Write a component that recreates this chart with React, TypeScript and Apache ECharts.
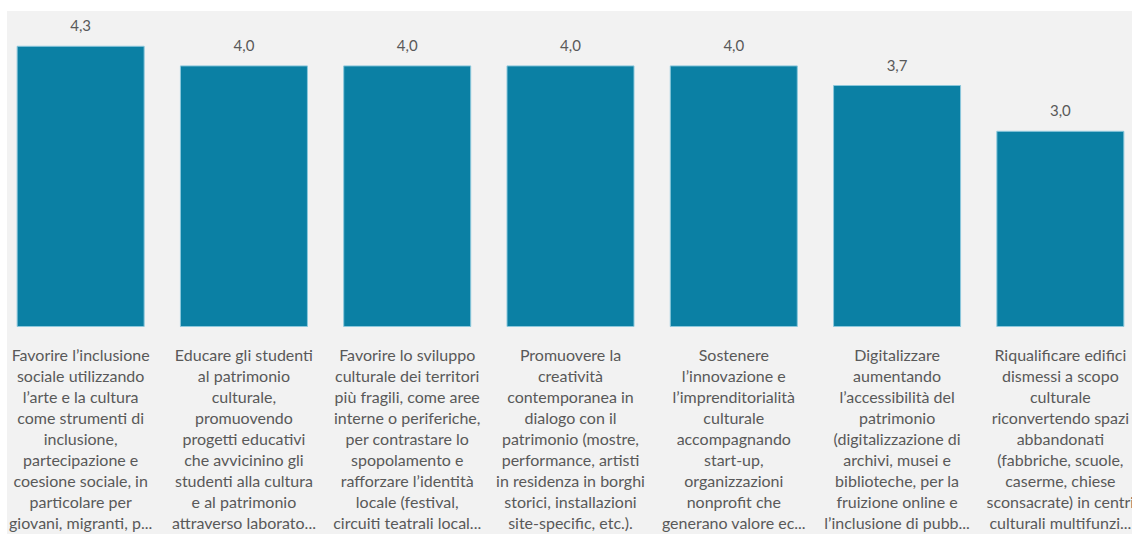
import React, { useEffect, useRef } from "react";
import * as echarts from "echarts";

const categories: string[] = [
  "Favorire l’inclusione\nsociale utilizzando\nl’arte e la cultura\ncome strumenti di\ninclusione,\npartecipazione e\ncoesione sociale, in\nparticolare per\ngiovani, migranti, p...",
  "Educare gli studenti\nal patrimonio\nculturale,\npromuovendo\nprogetti educativi\nche avvicinino gli\nstudenti alla cultura\ne al patrimonio\nattraverso laborato...",
  "Favorire lo sviluppo\nculturale dei territori\npiù fragili, come aree\ninterne o periferiche,\nper contrastare lo\nspopolamento e\nrafforzare l’identità\nlocale (festival,\ncircuiti teatrali local...",
  "Promuovere la\ncreatività\ncontemporanea in\ndialogo con il\npatrimonio (mostre,\nperformance, artisti\nin residenza in borghi\nstorici, installazioni\nsite-specific, etc.).",
  "Sostenere\nl’innovazione e\nl’imprenditorialità\nculturale\naccompagnando\nstart-up,\norganizzazioni\nnonprofit che\ngenerano valore ec...",
  "Digitalizzare\naumentando\nl’accessibilità del\npatrimonio\n(digitalizzazione di\narchivi, musei e\nbiblioteche, per la\nfruizione online e\nl’inclusione di pubb...",
  "Riqualificare edifici\ndismessi a scopo\nculturale\nriconvertendo spazi\nabbandonati\n(fabbriche, scuole,\ncaserme, chiese\nsconsacrate) in centri\nculturali multifunzi...",
];

const values: number[] = [4.3, 4.0, 4.0, 4.0, 4.0, 3.7, 3.0];

const FONT = "Lato, 'Noto Sans', sans-serif";

export default function App() {
  const ref = useRef<HTMLDivElement>(null);
  useEffect(() => {
    if (!ref.current) return;
    const chart = echarts.init(ref.current, undefined, { renderer: "svg" });
    chart.setOption({
      animation: false,
      graphic: [
        {
          type: "rect",
          z: -10,
          silent: true,
          shape: { x: 8, y: 11, width: 1140, height: 530 },
          style: { fill: "#f2f2f2" },
        },
      ],
      grid: { left: 0, right: 0, top: -1, bottom: 207, containLabel: false },
      xAxis: {
        type: "category",
        data: categories,
        axisLine: { show: false },
        axisTick: { show: false },
        axisLabel: {
          interval: 0,
          color: "#595959",
          fontFamily: FONT,
          fontSize: 16,
          lineHeight: 21,
          margin: 17,
          align: "center",
          verticalAlign: "top",
        },
      },
      yAxis: {
        type: "value",
        min: 0,
        max: 5,
        show: false,
        splitLine: { show: false },
      },
      series: [
        {
          type: "bar",
          data: values,
          barWidth: 128,
          itemStyle: {
            color: "#0b80a4",
            borderColor: "#8cc8dc",
            borderWidth: 1,
          },
          label: {
            show: true,
            position: "top",
            distance: 13,
            color: "#595959",
            fontFamily: FONT,
            fontSize: 15,
            formatter: (p: any) => Number(p.value).toFixed(1).replace(".", ","),
          },
        },
      ],
    });
    return () => chart.dispose();
  }, []);
  return (
    <div style={{ position: "absolute", left: 0, top: 0, width: 1132, height: 534, overflow: "hidden" }}>
      <div
        ref={ref}
        style={{ position: "absolute", left: -1, top: 0, width: 1143, height: 534 }}
      />
    </div>
  );
}
